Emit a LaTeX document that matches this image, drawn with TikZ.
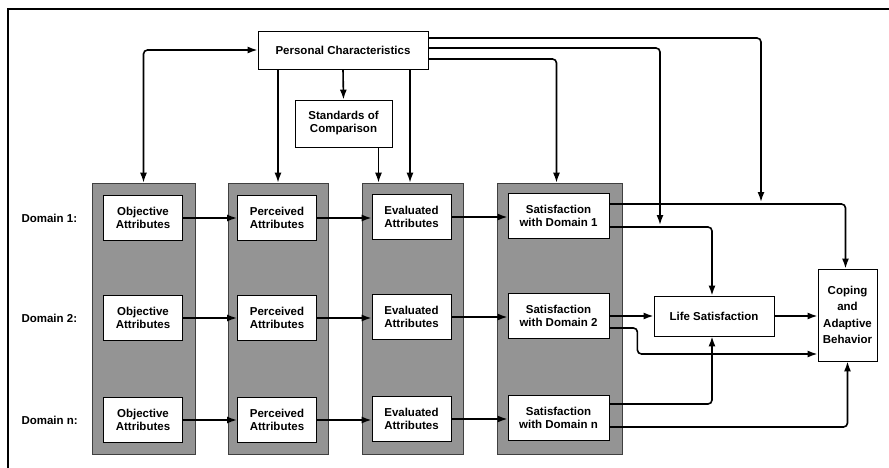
\documentclass[tikz,border=0pt]{standalone}
\usepackage{fontspec}
\setmainfont{Liberation Sans}
\usetikzlibrary{arrows.meta, calc, positioning}
\tikzset{
	flow/.style={->, line width=1.6pt, rounded corners=4pt},
	box/.style={
		rectangle,
		draw=black, line width=0.8pt,
		fill=white,
		font=\bfseries\fontsize{11.5}{13}\selectfont,
		align=center,
		inner sep=0pt
	},
	attr/.style={box, minimum width=79pt, minimum height=45pt},
	sat/.style={box, minimum width=101pt, minimum height=45pt},
	column/.style={rectangle, draw=black!75, fill=black!42, line width=0.6pt, inner sep=0pt, minimum height=271pt},
	domlabel/.style={anchor=west, font=\bfseries\fontsize{11.5}{13}\selectfont},
	>={Latex[length=10pt,width=7pt]}
}

\begin{document}
\begin{tikzpicture}[x=1pt,y=-1pt]

	\useasboundingbox (0,0) rectangle (889,468);
	\draw[line width=2.2pt] (8,468) -- (8,9) -- (889,9);

	% shaded stages
	\node[column, minimum width=103pt]	(Ocol)	at (143.5,318.5) {};
	\node[column, minimum width=100pt]	(Pcol)	at (278,318.5) {};
	\node[column, minimum width=101pt]	(Ecol)	at (412.5,318.5) {};
	\node[column, minimum width=125pt]	(Scol)	at (559.5,318.5) {};

	\node[box, minimum width=170pt, minimum height=38pt]	(PC)	at (343,50)	{Personal Characteristics};
	\node[box, minimum width=97pt, minimum height=47pt]	(Std)	at (343.5,123.5)	{Standards of\\Comparison};
	\node[box, minimum width=120pt, minimum height=40pt]	(Life)	at (714,316)	{Life Satisfaction};
	\node[box, minimum width=59pt, minimum height=92pt, font=\bfseries\fontsize{11.5}{16.5}\selectfont]	(Cope)	at (847.5,315)	{Coping\\and\\Adaptive\\Behavior};

	\foreach \r/\y in {1/218, 2/318, n/420} {
		\node[domlabel]	(D\r)	at (18,\y)	{Domain \r:};
		\node[attr]	(O\r)	at (143,\y)	{Objective\\Attributes};
		\node[attr]	(P\r)	at (277,\y)	{Perceived\\Attributes};
		\node[attr]	(E\r)	at (411.5,\y-1)	{Evaluated\\Attributes};
		\node[sat]	(S\r)	at (558.5,\y-2)	{Satisfaction\\with Domain \r};
		\draw[flow] (O\r.east) -- (O\r.east -| P\r.west);
		\draw[flow] (P\r.east) -- (P\r.east -| E\r.west);
		\draw[flow] (E\r.east) -- (E\r.east -| S\r.west);
	}

	% personal characteristics feed every stage
	\coordinate (J1) at (761,202);
	\coordinate (J2) at (660,225);
	\draw[flow] ($(PC.east)+(0,-12)$) -| (J1);
	\draw[flow] ($(PC.east)+(0,-2)$) -| (J2);
	\draw[flow] ($(PC.east)+(0,9)$) -| ($(Scol.north)+(-3,0)$);
	\draw[flow, <->] (Ocol.north) |- (PC.west);
	\draw[flow] (PC.south -| Pcol.north) -- (Pcol.north);
	\draw[flow] (PC.south) -- (Std.north);
	\draw[flow] ($(PC.south)+(67,0)$) coordinate (p) -- (p |- Ecol.north);
	\draw[flow] ($(Std.south)+(35,0)$) coordinate (s) -- (s |- Ecol.north);

	% domain satisfaction to outcomes
	\draw[flow] ($(S1.east)+(0,-12)$) -| ($(Cope.north)+(-2,0)$);
	\draw[flow] ($(S1.east)+(0,11)$) -| ($(Life.north)+(-2,0)$);
	\draw[flow] (S2.east) -- (S2.east -| Life.west);
	\draw[flow] (Life.east) -- (Life.east -| Cope.west);
	\draw[flow] ($(S2.east)+(0,12)$) -- ++(28,0) |- ($(Cope.west)+(0,39)$);
	\draw[flow] ($(Sn.east)+(0,-14)$) -| ($(Life.south)+(-2,0)$);
	\draw[flow] ($(Sn.east)+(0,9)$) -| (Cope.south);

\end{tikzpicture}
\end{document}
